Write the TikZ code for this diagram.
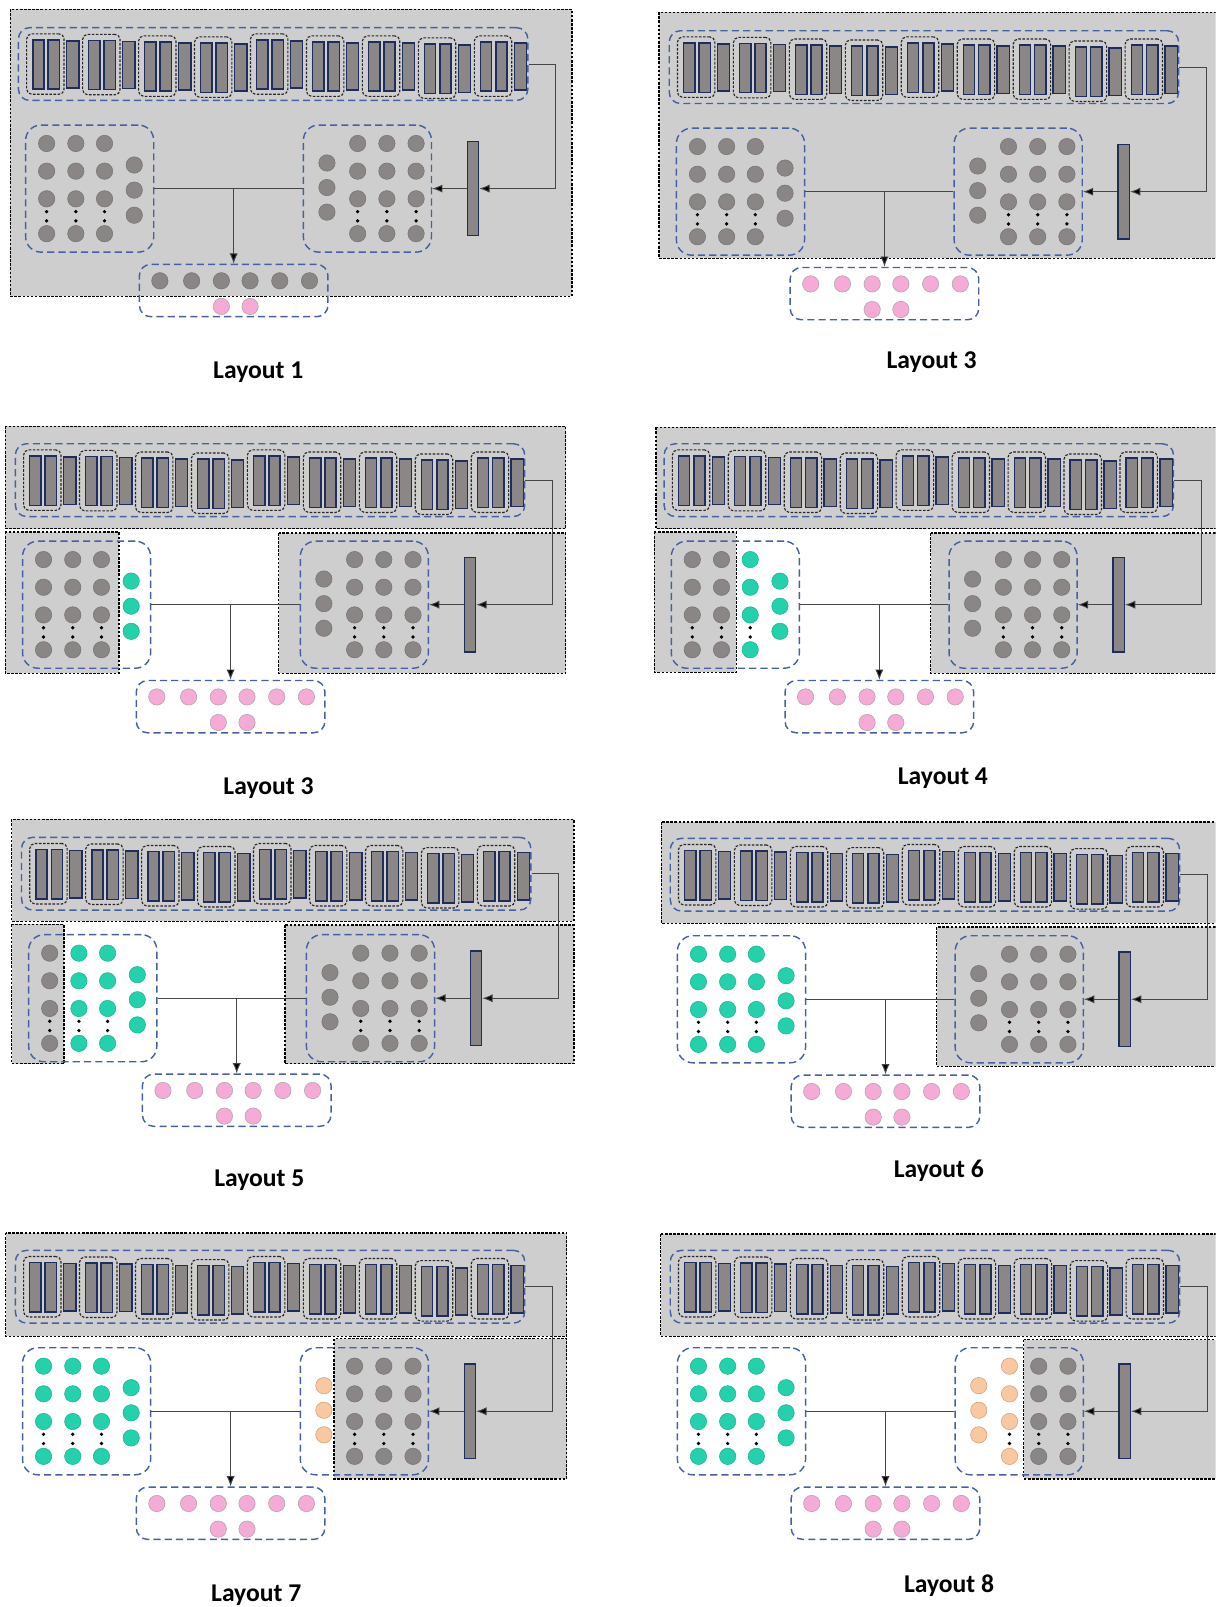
\documentclass[tikz,border=0pt]{standalone}
\usepackage{fontspec}
\setmainfont{Carlito}
\usetikzlibrary{arrows.meta}

\definecolor{panelgray}{RGB}{206,206,206}
\definecolor{ballgray}{RGB}{138,134,134}
\definecolor{barfill}{RGB}{140,135,135}
\definecolor{barline}{RGB}{30,45,90}
\definecolor{dashblue}{RGB}{68,98,160}
\definecolor{tealc}{RGB}{35,210,170}
\definecolor{peachc}{RGB}{250,200,160}
\definecolor{pinkc}{RGB}{246,170,214}
\definecolor{connc}{RGB}{70,70,70}

\tikzset{
  panel/.style={fill=panelgray, draw=black, line width=1.2pt, dash pattern=on 2.5pt off 1.5pt},
  bluebox/.style={draw=dashblue, line width=1.4pt, dash pattern=on 7pt off 4pt,
                  rounded corners=11pt, inner sep=0pt, fill=none},
  grpbox/.style={draw=black!85, line width=1.1pt, dash pattern=on 2.5pt off 1.5pt,
                 rounded corners=5pt, inner sep=0pt, minimum width=36.5pt, minimum height=59pt},
  barbox/.style={draw=barline, fill=barfill, line width=1.4pt, inner sep=0pt},
  ball/.style={circle, inner sep=0pt, minimum size=16pt, line width=0.5pt},
  gball/.style={ball, fill=ballgray, draw=ballgray!85!black},
  tball/.style={ball, fill=tealc, draw=tealc!85!black},
  oball/.style={ball, fill=peachc, draw=peachc!80!black},
  pball/.style={ball, fill=pinkc, draw=black!35},
  outball/.style={pball},
  conn/.style={draw=connc, line width=0.9pt},
  arrowend/.style={-{Latex[length=10pt,width=8pt,fill=black]}},
  lbl/.style={font=\fontsize{25}{30}\selectfont\bfseries, text=black},
}

% One network block: #1 name prefix, #2-#5 styles of the left cluster columns,
% #6-#9 styles of the right cluster columns
\newcommand{\panelbody}[9]{%
  % strip of convolution blocks
  \node[bluebox, minimum width=497pt, minimum height=71pt] (#1-top) at (248.5,35.5) {};
  \foreach \k/\dy in {0/0,1/0.5,2/2,3/3,4/0,5/2,6/2,7/4,8/2} {
    \pgfmathsetmacro\gx{8+54.6*\k}
    \node[grpbox] (#1-g\k) at (\gx+18.25,35.5+\dy) {};
    \node[barbox, minimum width=11pt, minimum height=48pt] (#1-g\k a) at (\gx+11.5,36+\dy) {};
    \node[barbox, minimum width=11pt, minimum height=48pt] (#1-g\k b) at (\gx+26.5,36+\dy) {};
    \node[barbox, minimum width=12pt, minimum height=46pt] (#1-g\k c) at (\gx+45,36+\dy) {};
  }
  % left cluster
  \node[bluebox, minimum width=125pt, minimum height=124pt, rounded corners=15pt] (#1-left) at (69.5,157) {};
  \foreach \r/\yy in {1/113,2/140,3/167,4/201} {
    \node[#2] (#1-la\r) at (27.5,\yy) {};
    \node[#3] (#1-lb\r) at (56,\yy) {};
    \node[#4] (#1-lc\r) at (84,\yy) {};
  }
  \foreach \r/\yy in {1/134,2/158.5,3/183} {
    \node[#5] (#1-ld\r) at (113,\yy) {};
  }
  \foreach \xx in {27.5,56,84} {
    \fill (\xx,179.5) circle[radius=1.8pt];
    \fill (\xx,188.5) circle[radius=1.8pt];
  }
  % right cluster
  \node[bluebox, minimum width=125pt, minimum height=124pt, rounded corners=15pt] (#1-right) at (340.5,157) {};
  \foreach \r/\yy in {1/132,2/156,3/180} {
    \node[#6] (#1-ra\r) at (301,\yy) {};
  }
  \foreach \r/\yy in {1/113,2/140,3/167,4/201} {
    \node[#7] (#1-rb\r) at (331,\yy) {};
    \node[#8] (#1-rc\r) at (359.5,\yy) {};
    \node[#9] (#1-rd\r) at (388,\yy) {};
  }
  \foreach \xx in {331,359.5,388} {
    \fill (\xx,179.5) circle[radius=1.8pt];
    \fill (\xx,188.5) circle[radius=1.8pt];
  }
  % dense layer
  \node[barbox, minimum width=11pt, minimum height=92pt] (#1-bar) at (443.5,157) {};
  % output units
  \node[bluebox, minimum width=184pt, minimum height=51pt] (#1-out) at (210,256.5) {};
  \foreach \i/\xx in {1/138,2/169,3/198,4/226,5/255,6/284} {
    \node[outball] (#1-o\i) at (\xx,247) {};
  }
  \node[pball] (#1-p1) at (198,272) {};
  \node[pball] (#1-p2) at (226,272) {};
  % connectors
  \coordinate (#1-turn) at (524,157);
  \coordinate (#1-join) at (210,157);
  \draw[conn, arrowend] (#1-top.east) -| (#1-turn) -- (#1-bar.east);
  \draw[conn, arrowend] (#1-bar.west) -- (#1-right.east);
  \draw[conn] (#1-left.east) -- (#1-right.west);
  \draw[conn, arrowend] (#1-join) -- (#1-out.north);
}

\begin{document}
\begin{tikzpicture}[x=1pt, y=-1pt]
\path[use as bounding box] (0,0) rectangle (1186,1568);
\begin{scope}
\clip (0,0) rectangle (1186,1568);

% Layout 1
\begin{scope}[shift={(18,27)}]
  \draw[panel] (-8,-18) rectangle (540,262);
  \tikzset{outball/.style={gball}}
  \panelbody{A}{gball}{gball}{gball}{gball}{gball}{gball}{gball}{gball}
\end{scope}

% Layout 3 (top right)
\begin{scope}[shift={(653,30)}]
  \draw[panel] (-10,-18) rectangle (560,222);
  \panelbody{B}{gball}{gball}{gball}{gball}{gball}{gball}{gball}{gball}
\end{scope}

% Layout 3 (second row)
\begin{scope}[shift={(15,433)}]
  \draw[panel] (-10,-17) rectangle (537,83);
  \draw[panel] (-10,86) rectangle (101,224);
  \draw[panel] (257,87) rectangle (537,224);
  \panelbody{C}{gball}{gball}{gball}{tball}{gball}{gball}{gball}{gball}
\end{scope}

% Layout 4
\begin{scope}[shift={(648,433)}]
  \draw[panel] (-8,-16) rectangle (560,83);
  \draw[panel] (-9.5,86) rectangle (70.5,223);
  \draw[panel] (260,87) rectangle (560,224);
  \panelbody{D}{gball}{gball}{tball}{tball}{gball}{gball}{gball}{gball}
\end{scope}

% Layout 5
\begin{scope}[shift={(21,817)}]
  \draw[panel] (-9.5,-17.5) rectangle (539,82);
  \draw[panel] (-9.5,85) rectangle (41.5,221);
  \draw[panel] (257,85.5) rectangle (539,221);
  \panelbody{E}{gball}{tball}{tball}{tball}{gball}{gball}{gball}{gball}
\end{scope}

% Layout 6
\begin{scope}[shift={(654,818)}]
  \draw[panel] (-8.6,-16) rectangle (560,83);
  \draw[panel] (260,86.5) rectangle (560,222.5);
  \panelbody{F}{tball}{tball}{tball}{tball}{gball}{gball}{gball}{gball}
\end{scope}

% Layout 7
\begin{scope}[shift={(15,1220)}]
  \draw[panel] (-9.5,-17) rectangle (538,84);
  \draw[panel] (311,86) rectangle (538,223);
  \panelbody{G}{tball}{tball}{tball}{tball}{oball}{gball}{gball}{gball}
\end{scope}

% Layout 8
\begin{scope}[shift={(654,1220)}]
  \draw[panel] (-9.3,-16) rectangle (560,84);
  \draw[panel] (345,87) rectangle (560,223);
  \panelbody{H}{tball}{tball}{tball}{tball}{oball}{oball}{gball}{gball}
\end{scope}
\end{scope}

% captions
\node[lbl] (capA) at (252,363) {Layout 1};
\node[lbl] (capB) at (909,353) {Layout 3};
\node[lbl] (capC) at (262,769) {Layout 3};
\node[lbl] (capD) at (920,759) {Layout 4};
\node[lbl] (capE) at (253,1152) {Layout 5};
\node[lbl] (capF) at (916,1142) {Layout 6};
\node[lbl] (capG) at (250,1556) {Layout 7};
\node[lbl] (capH) at (926,1547) {Layout 8};
\end{tikzpicture}
\end{document}
